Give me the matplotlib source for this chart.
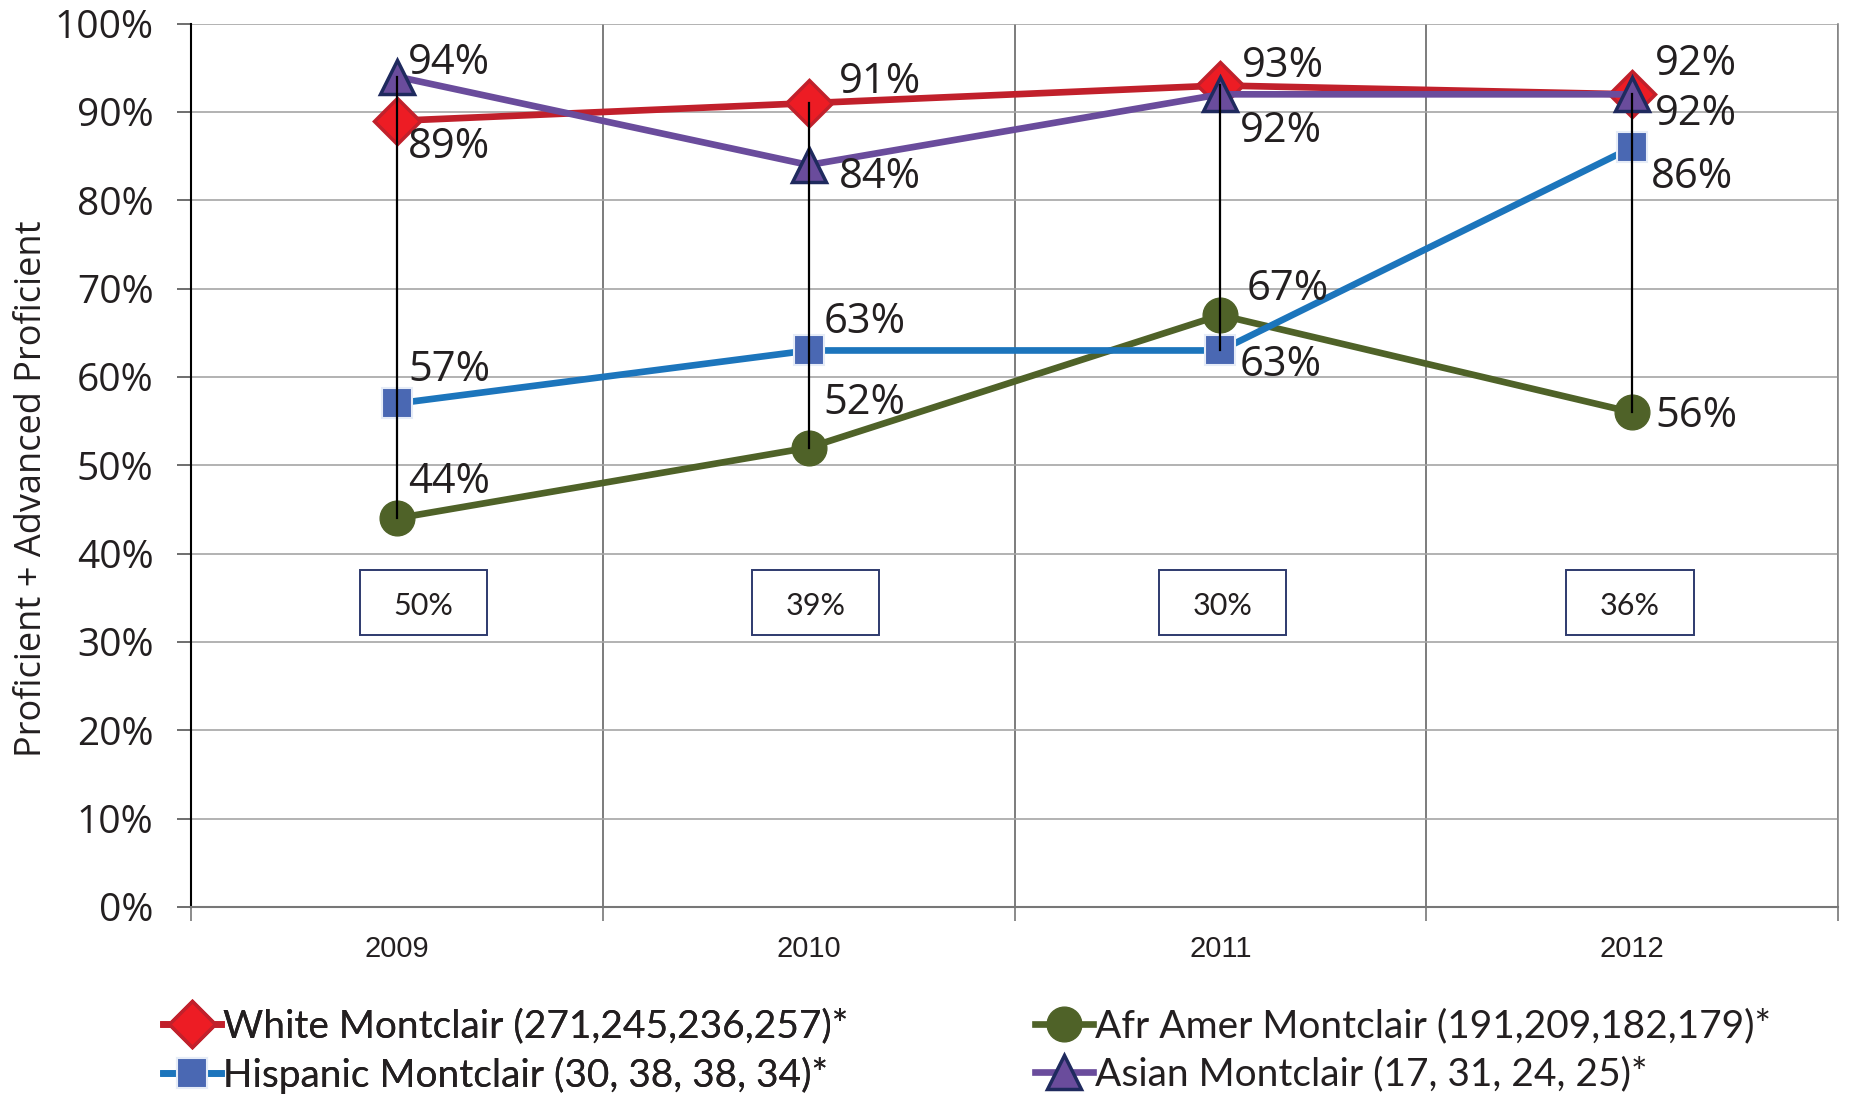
import matplotlib
matplotlib.use("Agg")

import matplotlib.pyplot as plt
from matplotlib.lines import Line2D
from matplotlib.patches import Rectangle


YEARS = ["2009", "2010", "2011", "2012"]

WHITE = [89, 91, 93, 92]
AFR_AMER = [44, 52, 67, 56]
HISPANIC = [57, 63, 63, 86]
ASIAN = [94, 84, 92, 92]

GAP_LABELS = ["50%", "39%", "30%", "36%"]
GAP_Y = 34.5

SERIES_NAMES = [
    "White Montclair (271,245,236,257)*",
    "Afr Amer Montclair (191,209,182,179)*",
    "Hispanic Montclair (30, 38, 38, 34)*",
    "Asian Montclair (17, 31, 24, 25)*",
]

# label offsets in pixels (dx, dy) relative to each marker
WHITE_OFFSETS = [(11, -26), (30, 21), (21, 19), (23, 30)]
AFR_OFFSETS = [(11, 36), (15, 45), (26, 26), (23, -4)]
HISP_OFFSETS = [(11, 33), (15, 28), (19, -15), (19, -30)]
ASIAN_OFFSETS = [(11, 14), (30, -12), (19, -37), (23, -20)]
BOX_SHIFT = [0.065, 0.017, 0.005, -0.005]

LABEL_FONT = "Open Sans"
LEGEND_FONT = "Lato"


def main() -> None:
    fig = plt.figure(figsize=(18.51, 11), dpi=100)
    ax = fig.add_axes([0.1032, 0.1755, 0.8898, 0.803])

    x_positions = list(range(len(YEARS)))

    series = [
        (WHITE, WHITE_OFFSETS, dict(color="#C1202B", marker="D", markersize=23,
                                    markerfacecolor="#ED1C24", markeredgecolor="#C1202B",
                                    markeredgewidth=2.5), 3),
        (AFR_AMER, AFR_OFFSETS, dict(color="#4F6228", marker="o", markersize=25,
                                     markerfacecolor="#4F6228", markeredgecolor="#4F6228",
                                     markeredgewidth=1), 4),
        (HISPANIC, HISP_OFFSETS, dict(color="#1C75BC", marker="s", markersize=21,
                                      markerfacecolor="#4A68B3", markeredgecolor="#E6ECF7",
                                      markeredgewidth=1.5), 5),
        (ASIAN, ASIAN_OFFSETS, dict(color="#6A4C9C", marker="^", markersize=25,
                                    markerfacecolor="#6A4C9C", markeredgecolor="#1F2A5E",
                                    markeredgewidth=2.5), 6),
    ]

    handles = []
    for values, offsets, style, z in series:
        line, = ax.plot(x_positions, values, linewidth=4.8, zorder=z, **style)
        handles.append(line)
        for x, v, (dx, dy) in zip(x_positions, values, offsets):
            ax.annotate(f"{v}%", (x, v), xytext=(dx, dy), textcoords="offset pixels",
                        ha="left", va="center", fontsize=30, family=LABEL_FONT,
                        color="#231F20", zorder=10)

    # high-low lines
    all_series = [WHITE, AFR_AMER, HISPANIC, ASIAN]
    for x in x_positions:
        column = [s[x] for s in all_series]
        ax.plot([x, x], [min(column), max(column)], color="black", linewidth=1.6, zorder=8)

    # gap boxes
    box_w = 0.309
    box_h = 7.4
    for x, text, shift in zip(x_positions, GAP_LABELS, BOX_SHIFT):
        cx = x + shift
        ax.add_patch(Rectangle((cx - box_w / 2, GAP_Y - box_h / 2), box_w, box_h,
                               facecolor="white", edgecolor="#2E3A6E", linewidth=1.4, zorder=9))
        ax.text(cx, GAP_Y - 0.4, text, ha="center", va="center", fontsize=22,
                family=LEGEND_FONT, color="#231F20", zorder=10)

    ax.set_xlim(-0.5, len(YEARS) - 0.5)
    ax.set_ylim(0, 100)
    ax.set_yticks(range(0, 101, 10))
    ax.set_yticklabels([f"{t}%" for t in range(0, 101, 10)], fontsize=28,
                       family=LABEL_FONT, color="#231F20")
    ax.set_xticks(x_positions)
    ax.set_xticklabels(YEARS, fontsize=21, family="Liberation Sans", color="#231F20")
    ax.tick_params(axis="x", length=0, pad=20)
    ax.set_xticks([x + 0.5 for x in range(-1, len(YEARS))], minor=True)
    ax.tick_params(axis="x", which="minor", length=10, color="#777777", width=1.2)
    ax.tick_params(axis="y", length=10, width=1.2, color="#555555", pad=17)

    ax.grid(axis="y", color="#A6A6A6", linewidth=1.2)
    ax.grid(axis="x", which="minor", color="#666666", linewidth=1.2)
    ax.set_axisbelow(True)

    ax.spines["left"].set_color("black")
    ax.spines["left"].set_linewidth(1.5)
    ax.spines["bottom"].set_color("#777777")
    ax.spines["bottom"].set_linewidth(1.5)
    ax.spines["right"].set_color("#888888")
    ax.spines["right"].set_linewidth(1.2)
    ax.spines["top"].set_visible(False)

    fig.text(0.0175, 0.556, "Proficient + Advanced Proficient", rotation=90,
             ha="center", va="center", fontsize=26, family=LABEL_FONT, color="#231F20")

    legend_kw = dict(frameon=False, handlelength=1.5, handletextpad=0.05,
                     labelspacing=0.3, borderpad=0, borderaxespad=0,
                     prop={"family": LEGEND_FONT, "size": 28}, labelcolor="#231F20")

    def legend_handle(line):
        return Line2D([], [], color=line.get_color(), linewidth=4.8,
                      marker=line.get_marker(), markersize=line.get_markersize(),
                      markerfacecolor=line.get_markerfacecolor(),
                      markeredgecolor=line.get_markeredgecolor(),
                      markeredgewidth=line.get_markeredgewidth())

    leg1 = fig.legend([legend_handle(handles[0]), legend_handle(handles[2])],
                      [SERIES_NAMES[0], SERIES_NAMES[2]], loc="upper left",
                      bbox_to_anchor=(0.088, 0.083), **legend_kw)
    fig.add_artist(leg1)
    fig.legend([legend_handle(handles[1]), legend_handle(handles[3])],
               [SERIES_NAMES[1], SERIES_NAMES[3]], loc="upper left",
               bbox_to_anchor=(0.559, 0.083), **legend_kw)

    fig.savefig("out.png", dpi=100, facecolor="white")
    plt.close(fig)


if __name__ == "__main__":
    main()
